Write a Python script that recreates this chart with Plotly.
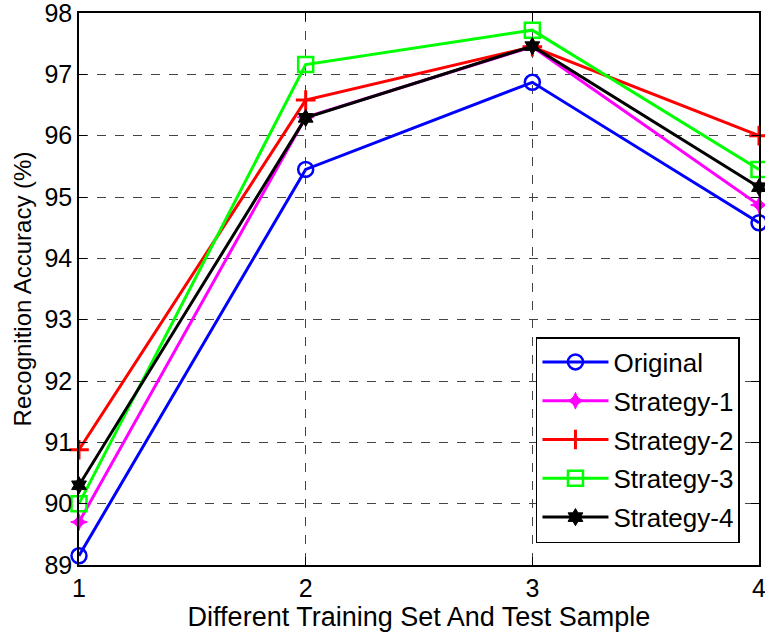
import plotly.graph_objects as go

# Training/test split index
splits = [1, 2, 3, 4]

# Recognition accuracy (%) for each strategy
original = [89.15, 95.45, 96.87, 94.58]
strategy_1 = [89.70, 96.30, 97.45, 94.87]
strategy_2 = [90.88, 96.58, 97.45, 96.00]
strategy_3 = [90.00, 97.16, 97.72, 95.45]
strategy_4 = [90.30, 96.29, 97.46, 95.16]

y_ticks = [89, 90, 91, 92, 93, 94, 95, 96, 97, 98]

series = [
    ("Original", original, "#0000ff", dict(symbol="circle-open", size=15, line=dict(width=2.5, color="#0000ff"))),
    ("Strategy-1", strategy_1, "#ff00ff", dict(symbol="star-diamond", size=12, line=dict(width=1, color="#ff00ff"))),
    ("Strategy-2", strategy_2, "#ff0000", dict(symbol="cross-thin-open", size=14, line=dict(width=3, color="#ff0000"))),
    ("Strategy-3", strategy_3, "#00ff00", dict(symbol="square-open", size=15, line=dict(width=2.5, color="#00ff00"))),
    ("Strategy-4", strategy_4, "#000000", dict(symbol="hexagram", size=13, line=dict(width=1, color="#000000"))),
]

fig = go.Figure()
for name, vals, color, marker in series:
    fig.add_trace(go.Scatter(
        x=splits, y=vals, name=name, mode="lines+markers",
        line=dict(color=color, width=3),
        marker=dict(color=color, **marker),
        legendgroup=name,
        cliponaxis=False,
    ))

font = "Liberation Sans, Arial, sans-serif"
axis_common = dict(
    showline=True, linecolor="black", linewidth=1.5, mirror="allticks",
    ticks="inside", ticklen=8, tickcolor="black", tickwidth=1,
    showgrid=True, gridcolor="#444444", griddash="dash", gridwidth=1,
    zeroline=False, automargin=False,
    ticklabeloverflow="allow",
    tickfont=dict(family=font, size=25, color="black"),
)

fig.update_layout(
    width=765, height=640,
    margin=dict(l=79, r=6, t=13, b=75),
    paper_bgcolor="white", plot_bgcolor="white",
    font=dict(family=font, color="black"),
    xaxis=dict(
        range=[1, 4], tickvals=splits, ticktext=[str(s) for s in splits],
        title=dict(text="Different Training Set And Test Sample",
                   font=dict(family=font, size=27), standoff=6),
        **axis_common,
    ),
    yaxis=dict(
        range=[89, 98], tickvals=y_ticks,
        title=dict(text="Recognition Accuracy (%)",
                   font=dict(family=font, size=24), standoff=6),
        **axis_common,
    ),
    legend=dict(
        x=0.672, y=0.413, xanchor="left", yanchor="top",
        bgcolor="white", bordercolor="black", borderwidth=1.5,
        font=dict(family=font, size=26, color="black"),
        itemwidth=66, tracegroupgap=2,
    ),
    showlegend=True,
)

fig.write_html("out.html")
